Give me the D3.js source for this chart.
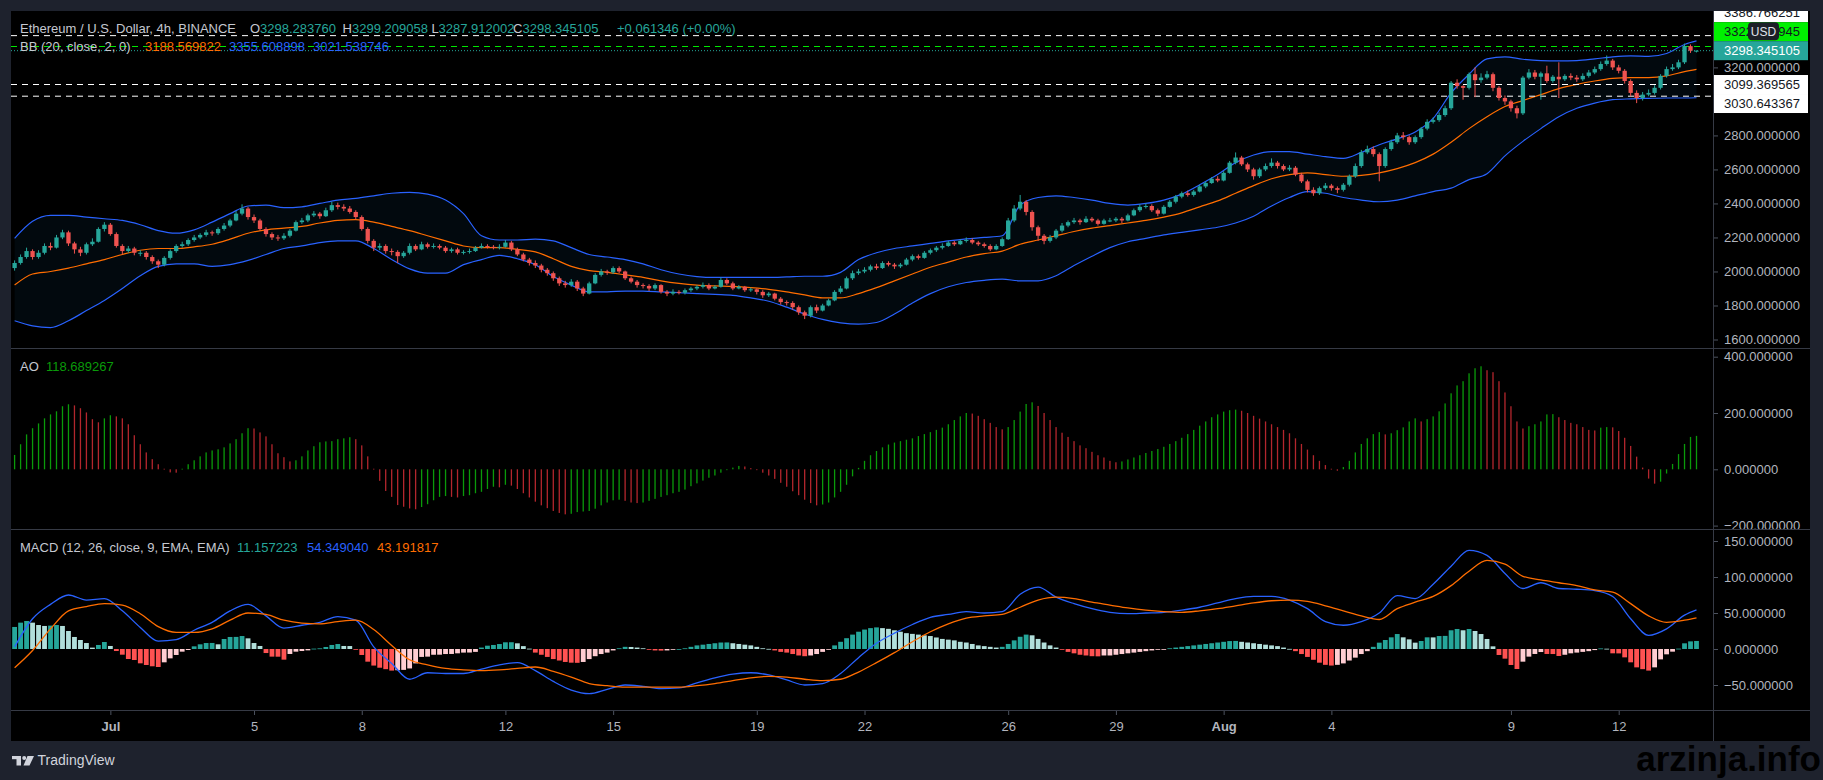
<!DOCTYPE html>
<html>
<head>
<meta charset="utf-8">
<title>ETHUSD 4h BINANCE</title>
<script src="https://cdn.jsdelivr.net/npm/d3@7/dist/d3.min.js"></script>
<style>
  html, body { margin: 0; padding: 0; background: #1e222d; }
  svg { display: block; font-family: "Liberation Sans", Arial, sans-serif; }
</style>
</head>
<body>
<div id="chart"></div>
<script>
// ETH / USD 4h candles, first bar 28 Jun 08:00 UTC, one bar every 4 hours
var opens = [2020,2050,2085,2120,2085,2110,2150,2140,2200,2230,
2165,2130,2110,2160,2175,2250,2275,2220,2150,2120,
2135,2110,2110,2085,2060,2040,2080,2120,2150,2160,
2185,2200,2215,2230,2225,2250,2270,2300,2340,2370,
2320,2300,2250,2220,2200,2195,2210,2240,2290,2300,
2330,2340,2325,2360,2390,2380,2370,2350,2320,2250,
2180,2140,2150,2120,2115,2090,2110,2150,2130,2160,
2145,2150,2140,2120,2130,2110,2115,2120,2140,2150,
2145,2140,2145,2170,2130,2100,2070,2050,2035,2010,
1990,1960,1930,1920,1940,1900,1870,1930,1980,2000,
1995,2020,2000,1960,1940,1920,1915,1900,1920,1880,
1870,1880,1875,1890,1900,1910,1920,1900,1910,1950,
1930,1900,1910,1890,1895,1880,1860,1870,1840,1820,
1815,1790,1760,1740,1790,1770,1800,1830,1880,1900,
1960,1990,2000,2010,2030,2020,2050,2040,2030,2040,
2070,2090,2080,2110,2125,2140,2150,2170,2160,2180,
2185,2170,2160,2150,2130,2150,2190,2300,2370,2410,
2350,2260,2210,2180,2200,2240,2270,2290,2300,2290,
2310,2300,2280,2300,2300,2310,2300,2330,2360,2380,
2385,2360,2340,2380,2410,2440,2460,2450,2470,2500,
2520,2545,2535,2580,2640,2670,2630,2600,2560,2600,
2620,2640,2620,2600,2610,2570,2530,2480,2460,2490,
2505,2490,2480,2510,2560,2620,2700,2720,2690,2620,
2720,2760,2800,2790,2760,2790,2840,2880,2890,2920,
2960,3110,3090,3080,3160,3125,3140,3160,3080,3020,
3000,2960,2930,3140,3170,3145,3165,3120,3145,3130,
3150,3140,3130,3150,3170,3190,3220,3240,3200,3180,
3120,3050,3020,3040,3050,3080,3150,3190,3200,3230,
3325,3298.28376];

var highs = [2065,2100,2140,2130,2125,2165,2170,2215,2245,2240,
2175,2145,2170,2195,2260,2290,2285,2230,2160,2150,
2145,2125,2120,2095,2070,2090,2130,2160,2175,2195,
2215,2225,2245,2240,2260,2285,2310,2355,2395,2380,
2335,2310,2260,2230,2215,2225,2250,2300,2315,2340,
2355,2350,2375,2410,2405,2395,2385,2360,2330,2260,
2190,2165,2160,2135,2125,2120,2165,2160,2175,2170,
2165,2160,2150,2140,2140,2125,2135,2150,2165,2160,
2155,2160,2185,2180,2140,2110,2080,2065,2045,2020,
2000,1970,1945,1955,1950,1910,1940,1990,2015,2010,
2030,2030,2005,1970,1950,1930,1925,1930,1925,1890,
1895,1890,1900,1910,1920,1935,1930,1920,1965,1960,
1940,1920,1915,1905,1900,1890,1880,1875,1850,1830,
1825,1800,1770,1800,1805,1810,1840,1890,1915,1970,
2005,2015,2025,2040,2045,2060,2060,2050,2050,2080,
2100,2100,2120,2135,2150,2165,2180,2180,2190,2200,
2195,2180,2170,2160,2160,2200,2315,2390,2450,2420,
2360,2270,2220,2215,2250,2285,2300,2315,2310,2325,
2320,2310,2310,2315,2320,2320,2340,2370,2395,2400,
2395,2370,2390,2420,2450,2470,2475,2480,2510,2530,
2555,2560,2590,2650,2700,2680,2640,2610,2610,2635,
2665,2650,2630,2625,2620,2580,2540,2495,2500,2520,
2515,2500,2520,2570,2635,2715,2740,2735,2700,2730,
2775,2815,2820,2800,2800,2850,2895,2905,2935,2975,
3120,3130,3095,3170,3200,3165,3180,3170,3090,3035,
3010,2975,3150,3190,3185,3175,3210,3155,3230,3160,
3165,3155,3165,3185,3205,3235,3270,3250,3215,3190,
3130,3065,3055,3070,3095,3160,3205,3220,3245,3340,
3335,3299.209058];

var lows = [2005,2040,2075,2070,2075,2100,2125,2135,2190,2150,
2105,2090,2100,2150,2170,2235,2210,2140,2100,2110,
2095,2090,2070,2045,2020,2030,2070,2110,2140,2150,
2175,2190,2205,2210,2215,2240,2260,2295,2330,2305,
2285,2240,2205,2185,2180,2185,2200,2235,2280,2290,
2320,2310,2320,2350,2365,2355,2340,2305,2240,2165,
2120,2125,2105,2095,2050,2080,2100,2120,2125,2135,
2135,2130,2110,2110,2100,2100,2105,2115,2135,2135,
2130,2130,2140,2120,2090,2060,2035,2020,1995,1975,
1945,1915,1905,1910,1885,1855,1865,1925,1970,1980,
1985,1990,1950,1930,1905,1900,1885,1890,1870,1855,
1860,1865,1865,1880,1890,1900,1890,1895,1905,1920,
1890,1895,1880,1880,1865,1845,1850,1830,1805,1800,
1775,1745,1720,1730,1755,1765,1795,1825,1870,1895,
1950,1980,1990,2000,2010,2015,2030,2015,2020,2035,
2060,2070,2075,2100,2115,2130,2145,2150,2155,2170,
2160,2150,2140,2120,2125,2145,2185,2290,2360,2330,
2240,2180,2160,2170,2190,2230,2260,2280,2275,2285,
2290,2270,2275,2290,2290,2285,2295,2325,2350,2370,
2350,2325,2335,2375,2400,2430,2440,2440,2465,2490,
2515,2525,2530,2575,2630,2620,2585,2540,2550,2590,
2610,2605,2590,2590,2560,2520,2465,2445,2450,2480,
2475,2460,2470,2500,2550,2610,2690,2675,2530,2610,
2710,2750,2775,2745,2750,2780,2830,2870,2880,2910,
2950,3075,3010,3070,3025,3110,3130,3060,3005,2980,
2940,2900,2920,3130,3130,3010,3110,3110,3020,3120,
3125,3115,3120,3140,3160,3180,3210,3185,3165,3105,
3030,2990,3005,3030,3040,3070,3140,3180,3190,3220,
3285,3287.912002];

var closes = [2050,2085,2120,2085,2110,2150,2140,2200,2230,2165,
2130,2110,2160,2175,2250,2275,2220,2150,2120,2135,
2110,2110,2085,2060,2040,2080,2120,2150,2160,2185,
2200,2215,2230,2225,2250,2270,2300,2340,2370,2320,
2300,2250,2220,2200,2195,2210,2240,2290,2300,2330,
2340,2325,2360,2390,2380,2370,2350,2320,2250,2180,
2140,2150,2120,2115,2090,2110,2150,2130,2160,2145,
2150,2140,2120,2130,2110,2115,2120,2140,2150,2145,
2140,2145,2170,2130,2100,2070,2050,2035,2010,1990,
1960,1930,1920,1940,1900,1870,1930,1980,2000,1995,
2020,2000,1960,1940,1920,1915,1900,1920,1880,1870,
1880,1875,1890,1900,1910,1920,1900,1910,1950,1930,
1900,1910,1890,1895,1880,1860,1870,1840,1820,1815,
1790,1760,1740,1790,1770,1800,1830,1880,1900,1960,
1990,2000,2010,2030,2020,2050,2040,2030,2040,2070,
2090,2080,2110,2125,2140,2150,2170,2160,2180,2185,
2170,2160,2150,2130,2150,2190,2300,2370,2410,2350,
2260,2210,2180,2200,2240,2270,2290,2300,2290,2310,
2300,2280,2300,2300,2310,2300,2330,2360,2380,2385,
2360,2340,2380,2410,2440,2460,2450,2470,2500,2520,
2545,2535,2580,2640,2670,2630,2600,2560,2600,2620,
2640,2620,2600,2610,2570,2530,2480,2460,2490,2505,
2490,2480,2510,2560,2620,2700,2720,2690,2620,2720,
2760,2800,2790,2760,2790,2840,2880,2890,2920,2960,
3110,3090,3080,3160,3125,3140,3160,3080,3020,3000,
2960,2930,3140,3170,3145,3165,3120,3145,3130,3150,
3140,3130,3150,3170,3190,3220,3240,3200,3180,3120,
3050,3020,3040,3050,3080,3150,3190,3200,3230,3325,
3298.28376,3298.345105];

// Bollinger Bands (20, close, 2) read every 3rd bar, plus the last bar
var bbUpper = [2195,2295,2330,2330,2320,2310,2300,2275,2240,2225,
2245,2290,2340,2385,2390,2375,2380,2400,2420,2430,
2445,2460,2465,2455,2420,2340,2210,2185,2185,2190,
2180,2140,2100,2085,2070,2045,2010,1985,1970,1965,
1965,1965,1965,1968,1972,1972,1995,2070,2110,2135,
2150,2165,2180,2192,2200,2210,2390,2435,2445,2435,
2420,2400,2390,2400,2420,2455,2510,2570,2640,2685,
2705,2705,2690,2675,2665,2700,2745,2780,2820,2900,
3050,3160,3250,3262,3248,3240,3238,3240,3250,3262,
3268,3265,3282,3335,3355.608898];
var bbBasis = [1920,1985,2000,2020,2045,2070,2100,2125,2135,2135,
2145,2160,2190,2225,2245,2255,2265,2285,2300,2305,
2290,2265,2240,2210,2180,2150,2140,2140,2130,2115,
2075,2030,2005,1995,1980,1965,1945,1930,1920,1915,
1912,1905,1895,1880,1862,1845,1845,1870,1905,1945,
1985,2025,2055,2085,2105,2120,2160,2185,2210,2235,
2255,2270,2285,2300,2320,2345,2380,2415,2460,2505,
2545,2570,2580,2570,2560,2565,2580,2605,2640,2690,
2760,2840,2910,2970,3005,3040,3075,3100,3120,3135,
3140,3140,3150,3175,3188.569822];
var bbLower = [1710,1680,1670,1710,1770,1830,1900,1975,2030,2045,
2045,2030,2040,2065,2100,2135,2150,2170,2180,2180,
2135,2070,2015,1990,1990,2040,2070,2095,2075,2040,
1970,1920,1880,1880,1885,1885,1880,1875,1870,1865,
1860,1845,1825,1790,1750,1718,1698,1690,1700,1750,
1815,1870,1910,1935,1948,1955,1945,1945,1975,2035,
2090,2140,2175,2195,2215,2230,2245,2260,2285,2325,
2385,2435,2470,2460,2435,2420,2410,2420,2445,2470,
2490,2540,2575,2680,2765,2840,2910,2960,2990,3010,
3015,3018,3020,3020,3021.538746];

// Awesome Oscillator, one value per bar
var aoValues = [51,89,124,146,163,181,195,206,224,231,
227,217,202,178,167,181,192,188,181,160,
121,89,60,36,18,2,-11,-12,2,18,
32,46,60,67,71,78,92,107,128,146,
145,131,117,89,57,43,28,32,46,67,
82,96,99,100,107,110,114,107,85,46,
2,-41,-77,-98,-127,-133,-139,-142,-134,-124,
-110,-98,-95,-98,-100,-95,-92,-85,-80,-70,
-62,-64,-55,-58,-70,-85,-100,-115,-128,-138,
-148,-155,-160,-158,-152,-150,-148,-140,-128,-118,
-110,-108,-112,-118,-120,-118,-112,-105,-98,-92,
-85,-80,-72,-60,-50,-40,-30,-22,-12,-3,
6,12,10,4,-3,-12,-22,-34,-48,-62,
-78,-92,-108,-120,-128,-125,-118,-100,-80,-55,
-25,5,30,50,65,78,88,95,100,105,
110,118,125,132,140,148,160,175,188,200,
198,190,178,165,150,142,150,175,205,232,
238,225,200,175,150,130,115,100,85,75,
62,50,42,30,25,28,35,42,50,58,
65,72,80,90,100,112,125,140,155,170,
185,195,205,210,212,208,200,190,180,170,
160,150,140,128,110,90,70,50,30,15,
2,-5,8,30,60,90,110,125,132,124,
128,139,149,170,181,170,178,188,206,234,
270,298,313,341,359,366,352,345,313,273,
224,170,145,153,160,170,195,196,185,175,
165,160,150,140,138,148,150,149,136,112,
83,45,6,-33,-51,-44,-15,19,54,90,
115,118.689267];

// MACD (12, 26, 9): histogram per bar, lines every 3rd bar plus the last bar
var macdHist = [30.6,36.6,38.9,36.6,33.3,32,32.5,33.3,32,25,
16.7,12.5,8.3,1.9,5.6,9.7,4.2,-2.8,-7.9,-13.9,
-15.3,-19.9,-22.2,-24,-25,-18.5,-13,-8.3,-3.7,-1.4,
3.7,6.5,8.3,8.4,6.5,13.9,16.7,16.8,18,14.8,
8.3,4.2,-5.6,-10.6,-10.7,-14.8,-6.9,-3.7,-2.8,-1.9,
0.5,0.9,2.8,5.6,6.9,4.2,4.1,-0.9,-8.3,-17.6,
-23,-26,-28,-30,-29.5,-29,-27,-20,-11,-10.6,
-8,-7.9,-7,-6.9,-6,-5,-4.9,-4,2,4.6,
5.6,6.9,9.3,9.4,7.9,4,0.5,-5,-8,-11,
-14,-16,-18,-19,-19.2,-18,-14,-10,-7,-5,
-2,1,3,2.8,2,1,-1,-2,-2.2,-2,
-1,0,1,3,5,6,7,8,9,9.1,
8,7,6,5,3,1,0.2,-2,-4,-5,
-7,-9,-10,-9,-7,-4,-0.5,5,10,15,
20,24,27,29,30,29,28,26,24,22,
21,20,19,18,16,14,13,12,10,9,
7,5,4,3,2,3,7,12,17,20,
19,14,9,5,2,-1,-4,-6,-8,-9,
-10,-10.2,-9,-9,-8,-7,-6,-5,-4,-3,
-2,-1,-0.2,1,2,3,4,5,6,7,
8,9,10,11,11.2,10,9,8,7,6,
5,4,2,0.2,-3,-7,-11,-15,-19,-22,
-23,-22,-20,-16,-12,-7,-3,3,8.8,12.5,
16.2,20.8,16.2,13.4,8.8,11.1,16.2,16.1,18,18.2,
26,27.8,26,27.8,25,20.8,13.9,3.7,-8.3,-13.4,
-22.2,-27.8,-17.6,-10.6,-6.9,-4.2,-6.9,-7,-9.7,-8,
-6,-5,-4,-3,-1.5,0.8,0.4,-6,-6.1,-11.6,
-18.5,-25.5,-28,-30,-25.5,-14.4,-7.4,-3.7,0.5,7.9,
10.6,11.157223];
var macdLine = [3,42,62,75,68,70,53,30,11,13,
26,37,53,62,46,29,33,37,45,40,
3,-20,-42,-33,-34,-34,-28,-22,-19,-30,
-45,-57,-62,-56,-50,-52,-55,-54,-47,-40,
-35,-33,-36,-43,-50,-48,-34,-12,8,22,
34,44,48,52,50,52,76,86,72,63,
56,51,49,50,51,54,58,64,70,73,
73,68,56,38,33,38,50,74,70,90,
115,137,130,105,84,92,84,83,81,73,
42,19,28,47,54.34904];
var macdSignal = [-26,-2,28,53,59,63,61,49,31,23,
23,28,40,50,48,40,36,35,38,40,
27,5,-15,-22,-27,-29,-30,-29,-27,-25,
-31,-39,-48,-51,-53,-53,-53,-53,-51,-48,
-44,-40,-38,-39,-42,-44,-42,-32,-19,-5,
10,24,35,43,46,48,58,68,72,70,
65,61,57,54,52,51,53,56,60,64,
67,68,66,60,53,46,41,56,65,73,
88,108,123,118,101,96,92,88,82,79,
63,46,37,40,43.191817];

// horizontal price levels drawn on the chart
var whiteLevels = [3386.766251, 3099.369565, 3030.643367];
var greenLevel = 3322.871945;

var priceTicks = [1600, 1800, 2000, 2200, 2400, 2600, 2800, 3000, 3200, 3400];
var aoTicks = [-200, 0, 200, 400];
var macdTicks = [-50, 0, 50, 100, 150];
var timeTicks = [[2021,6,1],[2021,6,5],[2021,6,8],[2021,6,12],[2021,6,15],[2021,6,19],
  [2021,6,22],[2021,6,26],[2021,6,29],[2021,7,1],[2021,7,4],[2021,7,9],[2021,7,12]];
var timeLabels = ["Jul","5","8","12","15","19","22","26","29","Aug","4","9","12"];

// ---------------------------------------------------------------
var WIDTH = 1823, HEIGHT = 780;
var LEFT = 11, RIGHT = 1713, EDGE = 1810, BOTTOM = 741;
var MAIN = [11, 348], AOP = [348, 529], MACDP = [529, 710], TIME_Y = 710;

var UP = "#26a69a", DOWN = "#ef5350";
var BLUE = "#2962ff", ORANGE = "#ff6d00";
var AO_UP = "#0a9a0a", AO_DOWN = "#b3262d";
var TEXT = "#c5c8d0", AXIS_TEXT = "#b2b5be", SEP = "#363a45";

var t0 = Date.UTC(2021, 5, 28, 8), step = 4 * 3600 * 1000;
function barTime(i) { return new Date(t0 + i * step); }

var x = d3.scaleUtc().domain([barTime(0), barTime(281)]).range([14.6, 1696.5]);
var yPrice = d3.scaleLinear().domain([1600, 3200]).range([339.5, 67.4]);
var yAO = d3.scaleLinear().domain([-200, 400]).range([525.6, 356.7]);
var yMACD = d3.scaleLinear().domain([-50, 150]).range([685, 541]);

var lineBars = d3.range(0, 280, 3).concat([281]);

var svg = d3.select("#chart").append("svg").attr("width", WIDTH).attr("height", HEIGHT);
var defs = svg.append("defs");
function clip(id, x0, y0, x1, y1) {
  defs.append("clipPath").attr("id", id).append("rect")
    .attr("x", x0).attr("y", y0).attr("width", x1 - x0).attr("height", y1 - y0);
  return "url(#" + id + ")";
}
var mainClip = clip("c-main", LEFT, MAIN[0], RIGHT, MAIN[1]);
var aoClip = clip("c-ao", LEFT, AOP[0], RIGHT, AOP[1]);
var macdClip = clip("c-macd", LEFT, MACDP[0], RIGHT, MACDP[1]);
var mainAxisClip = clip("c-main-ax", RIGHT, MAIN[0], EDGE, MAIN[1]);
var aoAxisClip = clip("c-ao-ax", RIGHT, AOP[0], EDGE, AOP[1]);
var macdAxisClip = clip("c-macd-ax", RIGHT, MACDP[0], EDGE, MACDP[1]);

svg.append("rect").attr("width", WIDTH).attr("height", HEIGHT).attr("fill", "#1e222d");
svg.append("rect").attr("x", LEFT).attr("y", 11).attr("width", EDGE - LEFT)
  .attr("height", BOTTOM - 11).attr("fill", "#000000");

// ---- main pane: Bollinger Bands ----
var mainG = svg.append("g").attr("clip-path", mainClip);
var bbX = function(k) { return x(barTime(lineBars[k])); };
mainG.append("path")
  .datum(lineBars)
  .attr("d", d3.area().curve(d3.curveMonotoneX)
    .x(function(d, k) { return bbX(k); })
    .y0(function(d, k) { return yPrice(bbLower[k]); })
    .y1(function(d, k) { return yPrice(bbUpper[k]); }))
  .attr("fill", "#2196f3").attr("fill-opacity", 0.06);

[[bbUpper, BLUE], [bbLower, BLUE], [bbBasis, ORANGE]].forEach(function(s) {
  mainG.append("path")
    .datum(s[0])
    .attr("d", d3.line().curve(d3.curveMonotoneX)
      .x(function(d, k) { return bbX(k); })
      .y(function(d) { return yPrice(d); }))
    .attr("fill", "none").attr("stroke", s[1]).attr("stroke-width", 1.2);
});

// ---- horizontal levels ----
var lastClose = closes[closes.length - 1];
var levels = whiteLevels.map(function(v) {
  return { v: v, line: "#ffffff", dash: "6,5", bg: "#ffffff", fg: "#131722" };
});
levels.push({ v: greenLevel, line: "#00e600", dash: "6,5", bg: "#00f000", fg: "#131722" });
levels.push({ v: lastClose, line: UP, dash: "1,2", bg: UP, fg: "#ffffff", fixed: true });

mainG.selectAll("line.level").data(levels).enter().append("line")
  .attr("x1", LEFT).attr("x2", RIGHT)
  .attr("y1", function(d) { return yPrice(d.v); })
  .attr("y2", function(d) { return yPrice(d.v); })
  .attr("stroke", function(d) { return d.line; })
  .attr("stroke-dasharray", function(d) { return d.dash; })
  .attr("stroke-width", 1);

// ---- candles ----
var bars = closes.map(function(c, i) {
  return { t: barTime(i), o: opens[i], h: highs[i], l: lows[i], c: c };
});
mainG.selectAll("line.wick").data(bars).enter().append("line")
  .attr("x1", function(d) { return x(d.t); })
  .attr("x2", function(d) { return x(d.t); })
  .attr("y1", function(d) { return yPrice(d.h); })
  .attr("y2", function(d) { return yPrice(d.l); })
  .attr("stroke", function(d) { return d.c >= d.o ? UP : DOWN; })
  .attr("stroke-width", 1);
mainG.selectAll("rect.body").data(bars).enter().append("rect")
  .attr("x", function(d) { return x(d.t) - 2.15; })
  .attr("width", 4.3)
  .attr("y", function(d) { return yPrice(Math.max(d.o, d.c)); })
  .attr("height", function(d) { return Math.max(1, Math.abs(yPrice(d.o) - yPrice(d.c))); })
  .attr("fill", function(d) { return d.c >= d.o ? UP : DOWN; });

// ---- AO pane ----
svg.append("g").attr("clip-path", aoClip)
  .selectAll("rect").data(aoValues).enter().append("rect")
  .attr("x", function(v, i) { return x(barTime(i)) - 0.65; })
  .attr("width", 1.3)
  .attr("y", function(v) { return yAO(Math.max(0, v)); })
  .attr("height", function(v) { return Math.max(0.8, Math.abs(yAO(v) - yAO(0))); })
  .attr("fill", function(v, i) { return i === 0 || v >= aoValues[i - 1] ? AO_UP : AO_DOWN; });

// ---- MACD pane ----
var macdG = svg.append("g").attr("clip-path", macdClip);
macdG.selectAll("rect").data(macdHist).enter().append("rect")
  .attr("x", function(v, i) { return x(barTime(i)) - 2.4; })
  .attr("width", 4.8)
  .attr("y", function(v) { return yMACD(Math.max(0, v)); })
  .attr("height", function(v) { return Math.max(0.8, Math.abs(yMACD(v) - yMACD(0))); })
  .attr("fill", function(v, i) {
    var rising = i === 0 || v >= macdHist[i - 1];
    if (v >= 0) return rising ? "#26a69a" : "#b2dfdb";
    return rising ? "#ffcdd2" : "#ff5252";
  });
[[macdLine, BLUE], [macdSignal, ORANGE]].forEach(function(s) {
  macdG.append("path")
    .datum(s[0])
    .attr("d", d3.line().curve(d3.curveMonotoneX)
      .x(function(d, k) { return bbX(k); })
      .y(function(d) { return yMACD(d); }))
    .attr("fill", "none").attr("stroke", s[1]).attr("stroke-width", 1.3);
});

// ---- legends ----
var f6 = d3.format(".6f");
var last = closes.length - 1;
function legendRow(y, parts) {
  var t = svg.append("text").attr("y", y).style("font-size", "13px");
  parts.forEach(function(p) {
    t.append("tspan").attr("x", p[0]).attr("fill", p[2]).text(p[1]);
  });
}
legendRow(33, [[20, "Ethereum / U.S. Dollar, 4h, BINANCE", TEXT],
  [250, "O", TEXT], [260, f6(opens[last]), UP],
  [342.5, "H", TEXT], [352, f6(highs[last]), UP],
  [431.5, "L", TEXT], [438.5, f6(lows[last]), UP],
  [513, "C", TEXT], [522.5, f6(closes[last]), UP],
  [617, "+0.061346 (+0.00%)", UP]]);
legendRow(50.5, [[20, "BB (20, close, 2, 0)", TEXT],
  [145, f6(bbBasis[bbBasis.length - 1]), ORANGE],
  [229, f6(bbUpper[bbUpper.length - 1]), BLUE],
  [313, f6(bbLower[bbLower.length - 1]), BLUE]]);
legendRow(371, [[20, "AO", TEXT], [46, f6(aoValues[last]), AO_UP]]);
legendRow(552, [[20, "MACD (12, 26, close, 9, EMA, EMA)", TEXT],
  [237, f6(macdHist[last]), UP],
  [307, f6(macdLine[macdLine.length - 1]), BLUE],
  [377, f6(macdSignal[macdSignal.length - 1]), ORANGE]]);

// ---- price label boxes (stacked so they do not overlap) ----
var LABEL_H = 19;
levels.forEach(function(d) { d.y = yPrice(d.v); });
var fixed = levels.filter(function(d) { return d.fixed; })[0];
var above = levels.filter(function(d) { return !d.fixed && d.y <= fixed.y; })
  .sort(function(a, b) { return b.y - a.y; });
var below = levels.filter(function(d) { return !d.fixed && d.y > fixed.y; })
  .sort(function(a, b) { return a.y - b.y; });
var edge = fixed.y;
above.forEach(function(d) { d.ly = Math.min(d.y, edge - LABEL_H); edge = d.ly; });
edge = fixed.y;
below.forEach(function(d) { d.ly = Math.max(d.y, edge + LABEL_H); edge = d.ly; });
fixed.ly = fixed.y;

// ---- axes ----
function valueAxis(scale, ticks, clipUrl, boxes) {
  var outer = svg.append("g").attr("clip-path", clipUrl);
  var g = outer.append("g").attr("transform", "translate(" + RIGHT + ",0)")
    .call(d3.axisRight(scale).tickValues(ticks).tickFormat(f6).tickSize(5).tickPadding(6));
  g.select(".domain").remove();
  g.selectAll(".tick line").attr("stroke", "#4c525e");
  g.selectAll(".tick text").attr("fill", AXIS_TEXT).style("font-size", "13px")
    .style("font-family", "'Liberation Sans', Arial, sans-serif");
  if (boxes) {
    g.selectAll(".tick").filter(function(d) {
      return boxes.some(function(b) { return Math.abs(scale(d) - b.ly) < 16; });
    }).remove();
  }
  return outer;
}
var mainAxis = valueAxis(yPrice, priceTicks, mainAxisClip, levels);
valueAxis(yAO, aoTicks, aoAxisClip);
valueAxis(yMACD, macdTicks, macdAxisClip);

var boxG = mainAxis.selectAll("g.box").data(levels).enter().append("g");
boxG.append("rect")
  .attr("x", RIGHT).attr("width", EDGE - RIGHT - 2)
  .attr("y", function(d) { return d.ly - LABEL_H / 2; })
  .attr("height", LABEL_H)
  .attr("fill", function(d) { return d.bg; });
boxG.append("text")
  .attr("x", RIGHT + 11)
  .attr("y", function(d) { return d.ly; })
  .attr("dy", "0.36em")
  .attr("fill", function(d) { return d.fg; })
  .style("font-size", "13px")
  .text(function(d) { return f6(d.v); });

// currency badge, drawn over the green level label as in the original
var badgeY = levels.filter(function(d) { return d.v === greenLevel; })[0].ly;
mainAxis.append("rect").attr("x", 1748).attr("y", badgeY - 9.5).attr("width", 31)
  .attr("height", 18).attr("rx", 4).attr("fill", "#1c1f27");
mainAxis.append("text").attr("x", 1763.5).attr("y", badgeY).attr("dy", "0.36em")
  .attr("text-anchor", "middle").attr("fill", "#e0e3eb").style("font-size", "12px").text("USD");

// time axis
var gx = svg.append("g").attr("transform", "translate(0," + TIME_Y + ")")
  .call(d3.axisBottom(x)
    .tickValues(timeTicks.map(function(d) { return new Date(Date.UTC(d[0], d[1], d[2])); }))
    .tickFormat(function(d, i) { return timeLabels[i]; })
    .tickSize(5).tickPadding(7));
gx.select(".domain").remove();
gx.selectAll(".tick line").attr("stroke", "#4c525e");
gx.selectAll(".tick text").attr("fill", AXIS_TEXT).style("font-size", "13px")
  .style("font-family", "'Liberation Sans', Arial, sans-serif")
  .style("font-weight", function(d, i) { return isNaN(+timeLabels[i]) ? "bold" : "normal"; });

// ---- pane separators ----
var sep = svg.append("g").attr("stroke", SEP).attr("stroke-width", 1);
[MAIN[1], AOP[1], TIME_Y].forEach(function(y) {
  sep.append("line").attr("x1", LEFT).attr("x2", EDGE).attr("y1", y + 0.5).attr("y2", y + 0.5);
});
sep.append("line").attr("x1", RIGHT + 0.5).attr("x2", RIGHT + 0.5).attr("y1", 11).attr("y2", BOTTOM);

// ---- footer ----
var logo = svg.append("g").attr("fill", "#d1d4dc");
logo.append("rect").attr("x", 12).attr("y", 756).attr("width", 9).attr("height", 3.2);
logo.append("rect").attr("x", 16.5).attr("y", 756).attr("width", 4.5).attr("height", 9.5);
logo.append("circle").attr("cx", 24.2).attr("cy", 758).attr("r", 2);
logo.append("path").attr("d", "M27.5,756 L34,756 L29.5,765.5 L23.5,765.5 Z");
svg.append("text").attr("x", 37.5).attr("y", 765).attr("fill", "#d1d4dc")
  .style("font-size", "14px").text("TradingView");

svg.append("text").attr("x", 1821).attr("y", 771).attr("text-anchor", "end")
  .attr("fill", "#000000").style("font-size", "35px").style("font-weight", "bold")
  .text("arzinja.info");
</script>
</body>
</html>
